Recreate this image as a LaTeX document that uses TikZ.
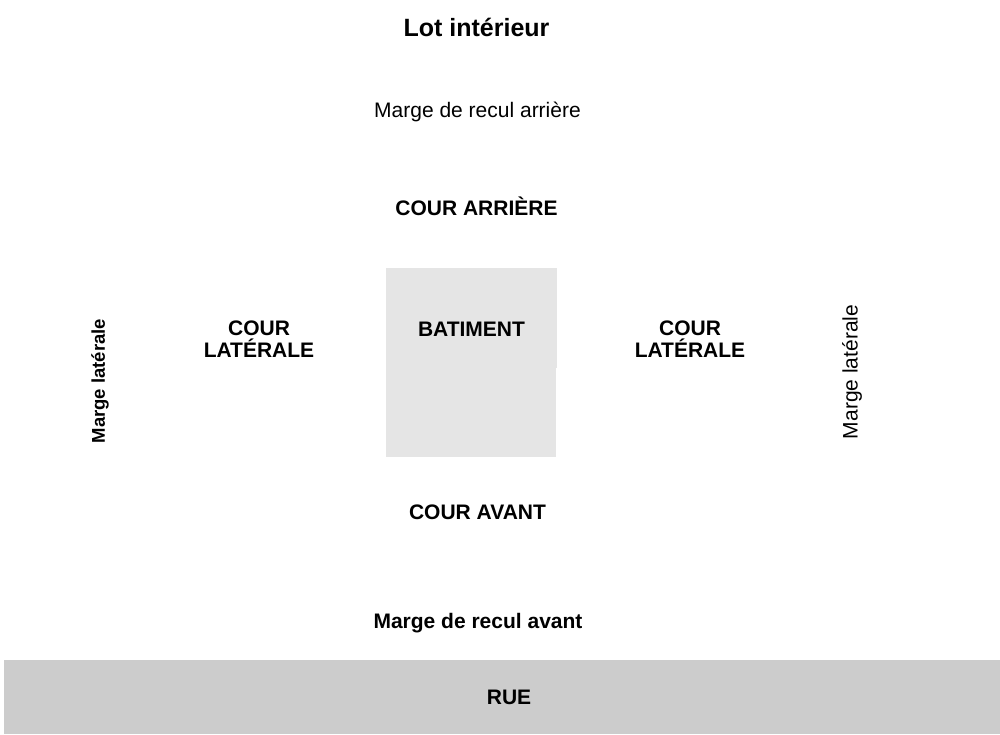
\documentclass[tikz,border=0pt]{standalone}
\usepackage{fontspec}
\setmainfont{Liberation Sans}
\begin{document}
\begin{tikzpicture}[x=1pt,y=-1pt,
  lbl/.style={font=\fontsize{21}{22}\selectfont, align=center, inner sep=0pt, anchor=base},
  blbl/.style={lbl, font=\fontsize{21}{22}\selectfont\bfseries}]
\useasboundingbox (0,0) rectangle (1000,734);
\fill[white] (0,0) rectangle (1000,734);
\fill[fill={rgb,255:red,204;green,204;blue,204}] (4,660) rectangle (1000,734);
\fill[fill={rgb,255:red,229;green,229;blue,229}] (386,268) rectangle (557,368);
\fill[fill={rgb,255:red,229;green,229;blue,229}] (386,367) rectangle (556,457);
\node[blbl, font=\fontsize{25}{27}\selectfont\bfseries] (title) at (476.5,36) {Lot intérieur};
\node[lbl] (mra) at (477.5,117.5) {Marge de recul arrière};
\node[blbl] (car) at (476.5,215) {COUR ARRIÈRE};
\node[blbl] (bat) at (471.5,336) {BATIMENT};
\node[blbl] (cll1) at (259,335) {COUR};
\node[blbl] (cll2) at (259,357) {LATÉRALE};
\node[blbl] (clr1) at (690,335) {COUR};
\node[blbl] (clr2) at (690,357) {LATÉRALE};
\node[blbl, anchor=center, rotate=90, font=\fontsize{18.5}{20}\selectfont\bfseries] (mll) at (100,381) {Marge latérale};
\node[lbl, anchor=center, rotate=90] (mlr) at (852,372) {Marge latérale};
\node[blbl] (cav) at (477.5,519) {COUR AVANT};
\node[blbl] (mrv) at (478,628) {Marge de recul avant};
\node[blbl] (rue) at (509,704) {RUE};
\end{tikzpicture}
\end{document}
